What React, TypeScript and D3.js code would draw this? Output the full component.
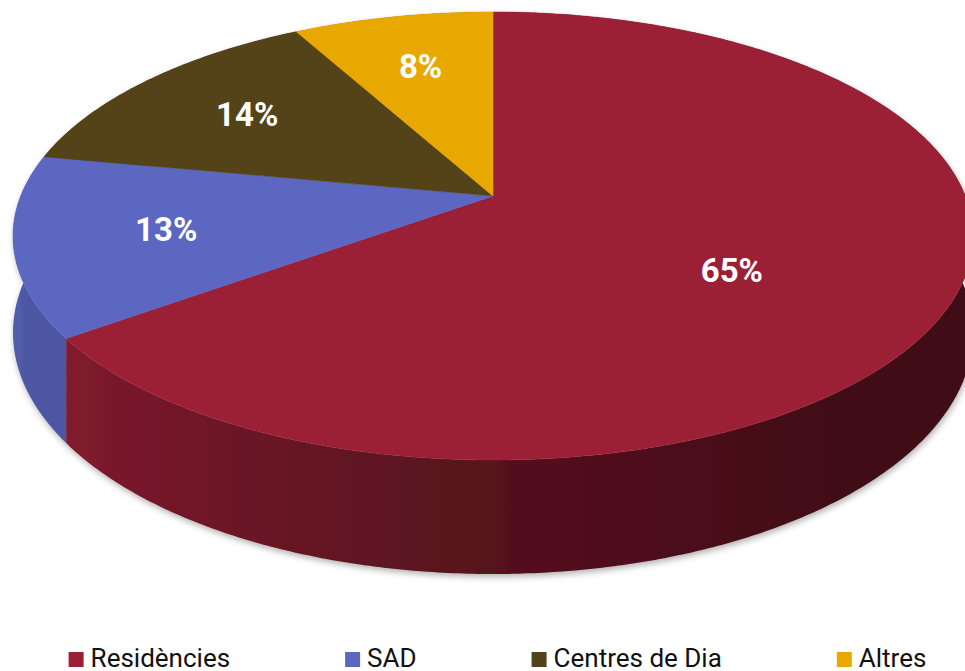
import React, { useEffect, useRef } from "react";
import * as d3 from "d3";

const categories = ["Residències", "SAD", "Centres de Dia", "Altres"];
const values = [65, 13, 14, 8];
const valueLabels = ["65%", "13%", "14%", "8%"];
const colors = ["#9B2036", "#5C67C1", "#544319", "#E9A800"];

const W = 965;
const H = 671;

export default function App() {
  const ref = useRef<SVGSVGElement | null>(null);

  useEffect(() => {
    const svg = d3.select(ref.current);
    svg.selectAll("*").remove();

    // perspective ellipse model
    const cx = 493;
    const cy = 196;
    const k = 0.1786;
    const B = 216.9;
    const A = 480 * Math.sqrt(1 - k * k);
    const D0 = 93.6;

    const proj = (a: number, r = 1): [number, number] => {
      const u = r * Math.sin(a);
      const v = -r * Math.cos(a);
      const w = 1 - k * v;
      return [cx + (A * u) / w, cy + (B * v) / w];
    };
    const depth = (a: number) => {
      const v = -Math.cos(a);
      return D0 / (1 - k * v);
    };

    const pie = d3.pie<number>().sort(null).value((d) => d);
    const arcs = pie(values);
    const total = d3.sum(values);

    const defs = svg.append("defs");
    const f = defs
      .append("filter")
      .attr("id", "shadow")
      .attr("x", "-10%")
      .attr("y", "-10%")
      .attr("width", "120%")
      .attr("height", "130%");
    f.append("feDropShadow")
      .attr("dx", 1)
      .attr("dy", 3)
      .attr("stdDeviation", 3)
      .attr("flood-color", "#000")
      .attr("flood-opacity", 0.3);

    const shade = d3
      .scaleLinear()
      .domain([0, 90, 140, 180, 235, 270, 360])
      .range([0.4, 0.4, 0.41, 0.55, 0.84, 0.88, 0.88])
      .clamp(true);

    const line = d3.line();
    const step = (0.5 * Math.PI) / 180;

    // gradients along x for the visible (front) half of the wall
    arcs.forEach((arc, i) => {
      const base = d3.rgb(colors[i]);
      const g = defs
        .append("linearGradient")
        .attr("id", `side${i}`)
        .attr("gradientUnits", "userSpaceOnUse")
        .attr("x1", 0)
        .attr("x2", W)
        .attr("y1", 0)
        .attr("y2", 0);
      for (let deg = 270; deg >= 90; deg -= 2) {
        const a = (deg * Math.PI) / 180;
        const x = proj(a)[0];
        const s = shade(deg);
        g.append("stop")
          .attr("offset", Math.max(0, Math.min(1, x / W)))
          .attr("stop-color", d3.rgb(base.r * s, base.g * s, base.b * s).formatHex());
      }
    });

    const sideG = svg.append("g").attr("filter", "url(#shadow)");
    arcs.forEach((arc, i) => {
      const top: [number, number][] = [];
      const bot: [number, number][] = [];
      const push = (a: number) => {
        const p = proj(a);
        top.push(p);
        bot.push([p[0], p[1] + depth(a)]);
      };
      for (let a = arc.startAngle; a < arc.endAngle; a += step) push(a);
      push(arc.endAngle);
      const pts = top.concat(bot.reverse());
      sideG.append("path").attr("d", line(pts) + "Z").attr("fill", `url(#side${i})`);
    });

    const topG = svg.append("g");
    arcs.forEach((arc, i) => {
      const pts: [number, number][] = [[cx, cy]];
      for (let a = arc.startAngle; a < arc.endAngle; a += step) pts.push(proj(a));
      pts.push(proj(arc.endAngle));
      topG
        .append("path")
        .attr("d", line(pts) + "Z")
        .attr("fill", colors[i])
        .attr("stroke", colors[i])
        .attr("stroke-width", 0.5);
    });

    const labG = svg.append("g");
    arcs.forEach((arc, i) => {
      const frac = values[i] / total;
      const mid = (arc.startAngle + arc.endAngle) / 2;
      const r = frac > 0.5 ? 0.575 : 0.69;
      const a = frac > 0.5 ? mid + (7 * Math.PI) / 180 : mid;
      const [x, y] = proj(a, r);
      labG
        .append("text")
        .attr("x", x)
        .attr("y", y)
        .attr("dy", "0.36em")
        .attr("text-anchor", "middle")
        .attr("font-family", "Roboto, sans-serif")
        .attr("font-weight", "bold")
        .attr("font-size", 33)
        .attr("fill", "#fff")
        .text(valueLabels[i]);
    });

    // legend
    const legG = svg.append("g");
    const fs = 26;
    const sq = 15;
    const gap = 115;
    const items = categories.map((c, i) => {
      const g = legG.append("g");
      g.append("rect").attr("width", sq).attr("height", sq).attr("y", -sq).attr("fill", colors[i]);
      const t = g
        .append("text")
        .attr("x", sq + 7)
        .attr("y", 0)
        .attr("font-family", "Roboto, sans-serif")
        .attr("font-size", fs)
        .attr("fill", "#111")
        .text(c);
      const w = sq + 7 + (t.node() as SVGTextElement).getComputedTextLength();
      return { g, w };
    });
    const totalW = d3.sum(items, (d) => d.w) + gap * (items.length - 1);
    let x = 497.5 - totalW / 2;
    items.forEach((it) => {
      it.g.attr("transform", `translate(${x},667)`);
      x += it.w + gap;
    });
  }, []);

  return (
    <svg
      ref={ref}
      width={W}
      height={H}
      style={{ position: "absolute", left: 0, top: 0, display: "block", background: "#fff" }}
    />
  );
}
